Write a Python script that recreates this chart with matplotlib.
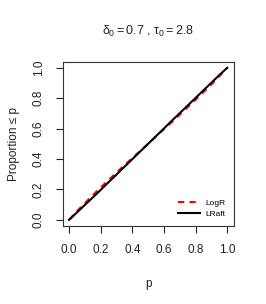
import matplotlib
matplotlib.use("Agg")
import matplotlib.pyplot as plt

plt.rcParams['font.family'] = ['Liberation Sans', 'DejaVu Sans']
plt.rcParams['mathtext.fontset'] = 'custom'
plt.rcParams['mathtext.rm'] = 'Liberation Sans'
plt.rcParams['mathtext.it'] = 'Liberation Sans'

p = [0, 0.05, 0.1, 0.15, 0.2, 0.25, 0.3, 0.35, 0.4, 0.45, 0.5,
     0.55, 0.6, 0.65, 0.7, 0.75, 0.8, 0.85, 0.9, 0.95, 1.0]
logr = [0, 0.057, 0.11, 0.162, 0.213, 0.262, 0.311, 0.359, 0.406, 0.453, 0.5,
        0.548, 0.596, 0.644, 0.692, 0.741, 0.79, 0.84, 0.891, 0.945, 1.0]
lraft = [0, 0.049, 0.098, 0.147, 0.197, 0.248, 0.298, 0.349, 0.399, 0.45, 0.5,
         0.551, 0.601, 0.652, 0.702, 0.752, 0.802, 0.852, 0.902, 0.952, 1.0]
ticks = [0.0, 0.2, 0.4, 0.6, 0.8, 1.0]
tick_labels = ["0.0", "0.2", "0.4", "0.6", "0.8", "1.0"]

fig = plt.figure(figsize=(2.66, 3.04), dpi=100)
ax = fig.add_axes([0.236, 0.257, 0.642, 0.54])

ax.plot(p, logr, color='red', linestyle=(0, (3, 2.5)), linewidth=1.5, label='LogR')
ax.plot(p, lraft, color='black', linewidth=1.5, label='LRaft')

ax.set_xlim(-0.04, 1.04)
ax.set_ylim(-0.04, 1.04)
ax.set_xticks(ticks)
ax.set_xticklabels(tick_labels, fontsize=8.5)
ax.set_yticks(ticks)
ax.set_yticklabels(tick_labels, fontsize=8.5, rotation=90, va='center')
ax.tick_params(direction='out', length=5, width=0.8, pad=8, colors='#222222')
for s in ax.spines.values():
    s.set_linewidth(0.8)
    s.set_color('#333333')

ax.set_xlabel('p', fontsize=8.5, labelpad=16, color='#222222')
ax.set_ylabel('Proportion \u2264 p', fontsize=8.5, labelpad=9, color='#222222')
ax.set_title(r'$\delta_0 = 0.7$ , $\tau_0 = 2.8$', fontsize=9, pad=19, color='#222222')

leg = ax.legend(loc='lower right', frameon=False, fontsize=6, handlelength=2.6,
                handletextpad=0.6, labelspacing=0.3, borderaxespad=0.6)

fig.savefig('out.png', dpi=100)
